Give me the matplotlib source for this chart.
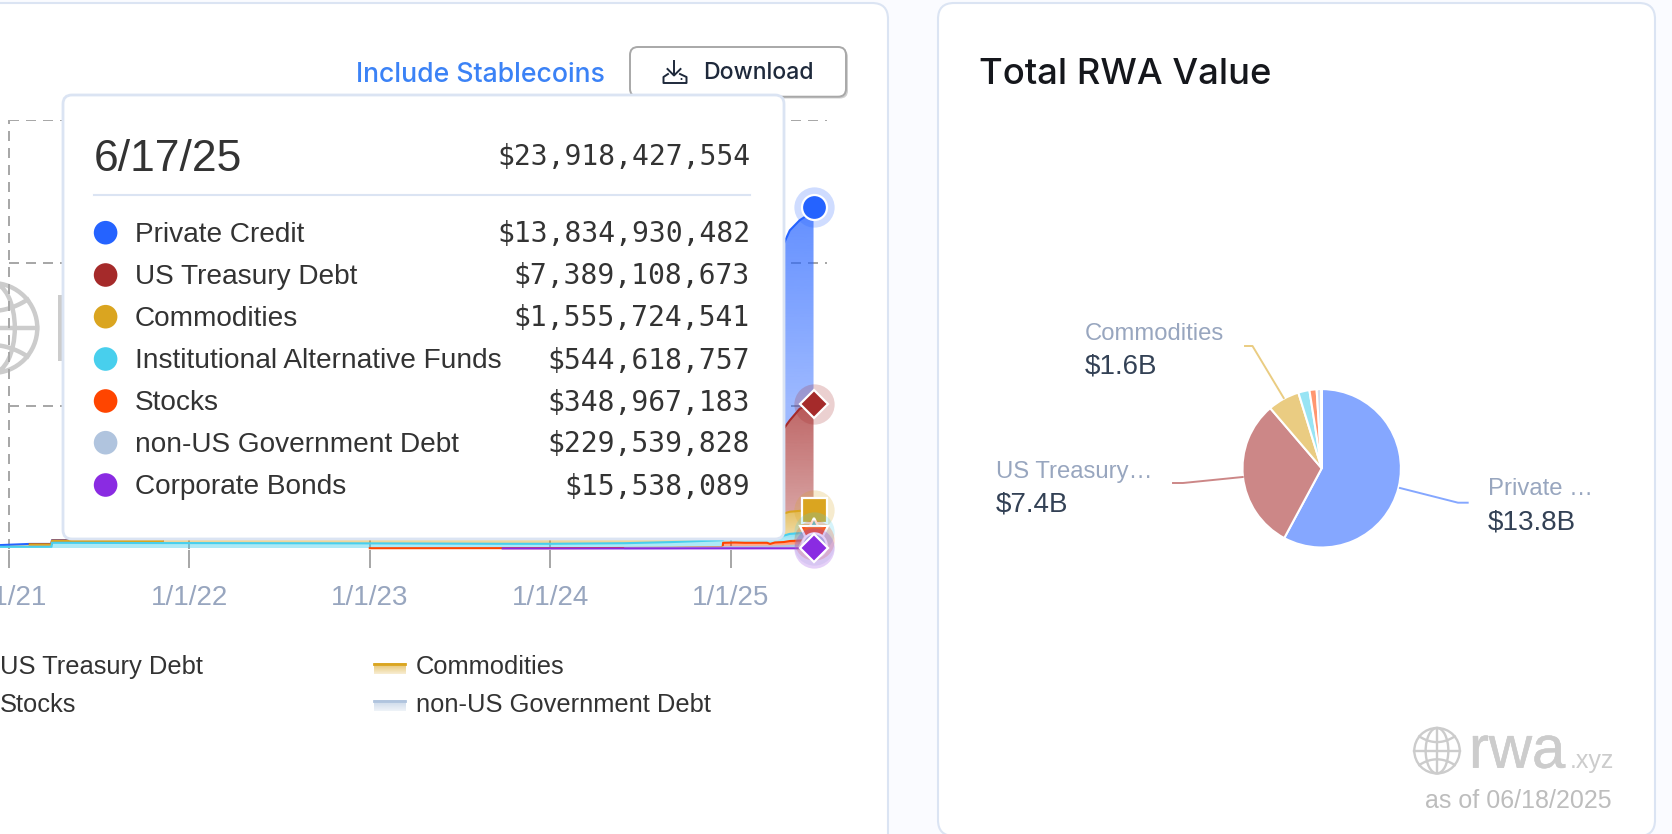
import numpy as np
import pandas as pd
import matplotlib
matplotlib.use("Agg")
import matplotlib.pyplot as plt
import matplotlib.dates as mdates
import matplotlib.patheffects as pe
from matplotlib.colors import to_rgb, to_rgba
from matplotlib.patches import FancyBboxPatch, Ellipse, Rectangle, Circle

W, H = 1672, 834

# data, values in billions, bottom of the stack first
dates = ["2020-10-01", "2021-02-12", "2021-03-28", "2021-03-29", "2021-11-08", "2021-11-09",
         "2022-01-01", "2023-01-01", "2023-09-27", "2024-01-01", "2024-06-01", "2024-09-01",
         "2024-12-15", "2024-12-16", "2025-01-09", "2025-01-29", "2025-03-15", "2025-03-21",
         "2025-03-31", "2025-04-18", "2025-04-30", "2025-05-20", "2025-06-01", "2025-06-17"]
corporate = [0, 0, 0, 0, 0, 0, 0, 0, .005, .005, .006, .008, .01, .01, .01, .01, .012, .012,
             .012, .013, .014, .015, .015, .0155]
non_us = [0, 0, 0, 0, 0, 0, 0, 0, 0, 0, .01, .02, .05, .08, .09, .09, .12, .12, .13, .15, .17,
          .2, .22, .2295]
stocks = [0, 0, 0, 0, 0, 0, 0, .02, .02, .02, .02, .02, .02, .31, .32, .30, .27, .19, .28, .29,
          .34, .34, .335, .349]
alt_funds = [.12, .12, .12, .40, .38, .38, .38, .34, .305, .305, .336, .40, .50, .25, .3, .35,
             .4, .48, .42, .45, .5, .52, .53, .5446]
commodities = [0, .16, .16, .14, .14, .5, .5, .55, .55, .6, .7, .7, .75, .75, .8, .95, 1.05, 1.1,
               1.4, 1.55, 1.55, 1.56, 1.55, 1.5557]
treasury = [0, .02, .02, .02, .02, .02, .03, .1, .6, .8, 1.6, 2.2, 3.3, 3.3, 3.5, 3.9, 4.4, 4.6,
            4.8, 5.95, 6.4, 7.15, 7.3, 7.389]
private = [.02, .02, .02, .02, .02, .3, .4, 1.0, 1.0, 1.3, 2.5, 3.5, 6.0, 6.0, 6.5, 7.2, 9.0, 9.5,
           10.5, 12.95, 13.3, 13.2, 13.3, 13.835]

stack_names = ["Corporate Bonds", "non-US Government Debt", "Stocks", "Institutional Alternative Funds",
               "Commodities", "US Treasury Debt", "Private Credit"]
stack_colors = ["#8a2be2", "#b0c4de", "#ff4500", "#48cfed", "#daa520", "#a52a2a", "#2563ff"]
stack_markers = ["D", "o", "v", "^", "s", "D", "o"]
stack_sizes = [14.5, 17.5, 20, 20, 18, 14.5, 18]

tip_date = "6/17/25"
tip_total = "$23,918,427,554"
tip_names = ["Private Credit", "US Treasury Debt", "Commodities", "Institutional Alternative Funds",
             "Stocks", "non-US Government Debt", "Corporate Bonds"]
tip_values = ["$13,834,930,482", "$7,389,108,673", "$1,555,724,541", "$544,618,757",
              "$348,967,183", "$229,539,828", "$15,538,089"]
tip_colors = ["#2563ff", "#a52a2a", "#daa520", "#48cfed", "#ff4500", "#b0c4de", "#8a2be2"]

pie_values = [13834930482, 7389108673, 1555724541, 544618757, 348967183, 229539828, 15538089]

tick_dates = ["2021-01-01", "2022-01-01", "2023-01-01", "2024-01-01", "2025-01-01"]
grid_values = [10, 20, 30]

SANS = "Liberation Sans"
INTER = "Inter"
MONO = "DejaVu Sans Mono"
LINE = "#dbe4f3"
GREY = "#cccccc"

fig = plt.figure(figsize=(W / 100, H / 100), dpi=100, facecolor="#fafbff")


def px_axes(x0, y0, x1, y1, zorder):
    a = fig.add_axes([x0 / W, 1 - y1 / H, (x1 - x0) / W, (y1 - y0) / H], zorder=zorder)
    a.patch.set_alpha(0)
    return a


def px_overlay(zorder):
    a = px_axes(0, 0, W, H, zorder)
    a.set_xlim(0, W)
    a.set_ylim(H, 0)
    a.axis("off")
    return a


def rbox(a, x0, y0, x1, y1, r, fc, ec, lw, z=1):
    a.add_patch(FancyBboxPatch((x0, y0), x1 - x0, y1 - y0, boxstyle=f"round,pad=0,rounding_size={r}",
                               fc=fc, ec=ec, lw=lw, zorder=z))


def globe(a, cx, cy, r, lw):
    a.add_patch(Circle((cx, cy), r, fc="none", ec=GREY, lw=lw))
    a.add_patch(Ellipse((cx, cy), r, 2 * r, fc="none", ec=GREY, lw=lw))
    a.plot([cx, cx], [cy - r, cy + r], color=GREY, lw=lw)
    a.plot([cx - r, cx + r], [cy, cy], color=GREY, lw=lw)
    t = np.linspace(-1, 1, 40)
    for s in (-1, 1):
        a.plot(cx + .78 * r * t, cy + s * r * (.38 + .25 * t ** 2), color=GREY, lw=lw)


# background cards and watermarks
bg = px_overlay(0)
rbox(bg, -40, 3, 888, 880, 16, "white", LINE, 1.5)
rbox(bg, 938, 3, 1655, 836, 16, "white", LINE, 1.5)
globe(bg, -7.7, 328, 45, 3.2)
bg.add_patch(Rectangle((58, 295), 4.5, 65.7, fc=GREY, ec="none"))
globe(bg, 1437, 750.7, 22.7, 1.7)
bg.text(1469, 767.7, "rwa", fontsize=43, family=SANS, color=GREY, va="baseline", ha="left",
        path_effects=[pe.withStroke(linewidth=.4, foreground=GREY)])
bg.text(1570, 767.7, ".xyz", fontsize=18, family=SANS, color=GREY, va="baseline", ha="left")
bg.text(1612, 800.7, "as of 06/18/2025", fontsize=18, family=SANS, color="#bdbdbd", ha="right", va="center")
bg.text(979, 74.5, "Total RWA Value", fontsize=26.2, family=INTER, weight=500, color="#15171c", ha="left", va="center")

# stacked area chart
x = mdates.date2num(pd.to_datetime(dates))
ticks = mdates.date2num(pd.to_datetime(tick_dates))
px_per_day = (731 - 9) / (ticks[4] - ticks[0])
x_left = ticks[0] - 9 / px_per_day
x_right = ticks[0] + (827 - 9) / px_per_day
y_scale = (548.5 - 120) / 30

ax = px_axes(0, 120, 827, 550, 1)
series = [corporate, non_us, stocks, alt_funds, commodities, treasury, private]
tops = np.cumsum(np.array(series, dtype=float), axis=0)

ax.hlines(grid_values, ticks[0], x_right, color="#a8a8a8", lw=1.44, linestyles=(0, (5, 3.5)), zorder=1)
ax.vlines(ticks, 0, 30, color="#a8a8a8", lw=1.44, linestyles=(0, (5, 3.5)), zorder=1)

for i, name in enumerate(stack_names):
    lo = tops[i - 1] if i > 0 else np.zeros(len(x))
    hi = tops[i]
    poly = ax.fill_between(x, lo, hi, color="none", lw=0, zorder=2)
    levels = np.linspace(hi.max(), 0, 256)
    rgba = np.zeros((256, 1, 4))
    rgba[:, :, :3] = to_rgb(stack_colors[i])
    rgba[:, 0, 3] = np.interp(levels, [lo[-1], hi.max()], [.45, .72])
    im = ax.imshow(rgba, extent=(x[0], x[-1], 0, hi.max()), aspect="auto", zorder=2)
    im.set_clip_path(poly.get_paths()[0], transform=ax.transData)

for j in range(len(stack_names) - 1, -1, -1):
    y_line = np.where(np.array(series[j]) > 0, tops[j], np.nan)
    ax.plot(x, y_line, color=stack_colors[j], lw=1.5, zorder=3)

for i in range(len(stack_names) - 1, -1, -1):
    ax.plot(x[-1], tops[i][-1], "o", ms=29, mfc=to_rgba(stack_colors[i], .22), mec="none",
            clip_on=False, zorder=4)
    ax.plot(x[-1], tops[i][-1], stack_markers[i], ms=stack_sizes[i], mfc=stack_colors[i], mec="white",
            mew=1.6, clip_on=False, zorder=4)

ax.set_xlim(x_left, x_right)
ax.set_ylim(-1.5 / y_scale, 30)
ax.set_xticks(ticks)
ax.set_xticklabels(["1/1/21", "1/1/22", "1/1/23", "1/1/24", "1/1/25"], fontsize=20, family=SANS)
ax.set_yticks([])
ax.tick_params(axis="x", length=13, width=1.44, color="#a8a8a8", labelcolor="#98a6bf", pad=12)
for s in ax.spines.values():
    s.set_visible(False)

# tooltip, buttons, legend, on top of the chart
top = px_overlay(2)
top.text(605, 74.5, "Include Stablecoins", fontsize=19.2, family=INTER, weight=500, color="#3b82f6", ha="right", va="center")
rbox(top, 632, 49, 848, 98.5, 8, "#d0d0d0", "none", 0)
rbox(top, 630, 47, 846, 96.7, 8, "white", "#a8a8a8", 1.4)
ic = "#1e293b"
top.plot([674, 674], [61, 75], color=ic, lw=1.4)
top.plot([667.5, 674, 680.5], [69, 75.5, 69], color=ic, lw=1.4)
top.plot([668, 663.5, 663.5, 686.5, 686.5, 680], [74, 77, 83, 83, 77, 74], color=ic, lw=1.4)
top.add_patch(Circle((681.5, 79), 1, fc=ic, ec="none"))
top.text(703, 72.5, "Download", fontsize=16.6, family=INTER, weight=500, color=ic, ha="left", va="center")

rbox(top, 63, 95, 784, 539, 9, "white", LINE, 2, z=2)
top.text(94, 159, tip_date, fontsize=32, family=SANS, color="#333333", ha="left", va="center", zorder=3)
top.text(750, 156.5, tip_total, fontsize=20.2, family=MONO, color="#333333", ha="right", va="center", zorder=3)
top.plot([94, 750], [194.7, 194.7], color=LINE, lw=1.5, zorder=3)
row_y = [232.7, 275, 316.7, 359, 401, 442.7, 485]
for name, val, col, yy in zip(tip_names, tip_values, tip_colors, row_y):
    top.add_patch(Circle((105.6, yy), 11.8, fc=col, ec="none", zorder=3))
    top.text(135, yy + 2, name, fontsize=20.2, family=SANS, color="#333333", ha="left", va="center", zorder=3)
    top.text(750, yy + 1.5, val, fontsize=20.2, family=MONO, color="#333333", ha="right", va="center", zorder=3)

# legend strip, cut off at the figure edge
top.text(0, 667, "US Treasury Debt", fontsize=18.4, family=SANS, color="#333333", ha="left", va="center")
top.text(0, 704.5, "Stocks", fontsize=18.4, family=SANS, color="#333333", ha="left", va="center")
leg_names = ["Commodities", "non-US Government Debt"]
leg_colors = ["#daa520", "#b0c4de"]
for name, col, yy in zip(leg_names, leg_colors, [667, 704.5]):
    sw = np.zeros((32, 1, 4))
    sw[:, :, :3] = to_rgb(col)
    sw[:, 0, 3] = np.linspace(.7, .2, 32)
    top.imshow(sw, extent=(373.6, 405, yy + 7, yy - 4), aspect="auto")
    top.plot([373.6, 405], [yy - 3.5, yy - 3.5], color=col, lw=2)
    top.text(415.7, yy, name, fontsize=18.4, family=SANS, color="#333333", ha="left", va="center")
top.set_xlim(0, W)
top.set_ylim(H, 0)

# pie
pie_ax = px_axes(1321.7 - 80, 468.3 - 80, 1321.7 + 80, 468.3 + 80, 1)
pie_colors = [to_rgba(c, .56) for c in tip_colors]
pie_ax.pie(pie_values, colors=pie_colors, startangle=90, counterclock=False, radius=.99,
           wedgeprops=dict(edgecolor="white", linewidth=1.5))
pie_ax.set_xlim(-1, 1)
pie_ax.set_ylim(-1, 1)

label_color = "#98a6bf"
value_color = "#334155"
pie_labels = [("Commodities", "$1.6B", 1085, 333.5, 366),
              ("US Treasury…", "$7.4B", 996, 472, 504.7),
              ("Private …", "$13.8B", 1488, 489, 522)]
for name, val, lx, ly, vy in pie_labels:
    top.text(lx, ly, name, fontsize=17.2, family=SANS, color=label_color, ha="left", va="center")
    top.text(lx, vy, val, fontsize=20, family=SANS, color=value_color, ha="left", va="center")
top.plot([1283.7, 1252.5, 1245], [398, 346, 346], color=pie_colors[2], lw=1.4)
top.plot([1242.7, 1183, 1173], [477, 483, 483], color=pie_colors[1], lw=1.4)
top.plot([1400, 1458, 1467.7], [488, 502.7, 502.7], color=pie_colors[0], lw=1.4)

fig.savefig("out.png", dpi=100, facecolor=fig.get_facecolor())
